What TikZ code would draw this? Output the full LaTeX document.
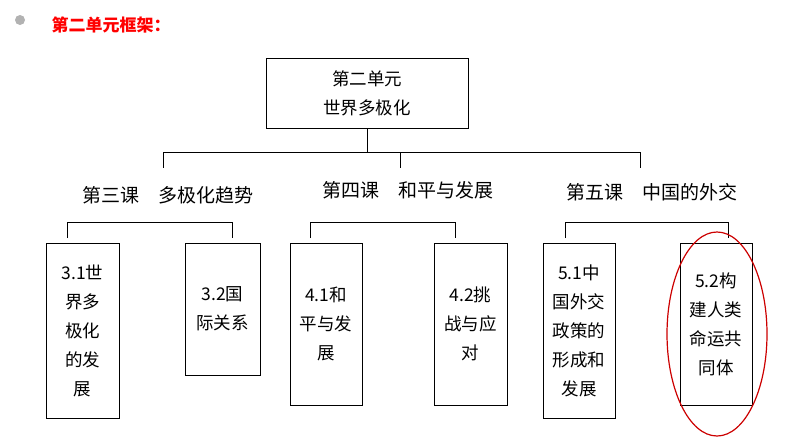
\documentclass[tikz,border=0pt]{standalone}
\usepackage{fontspec}
\newfontfamily\cjk{Noto Sans CJK SC}
\tikzset{
 bx/.style={draw,thick,align=center,inner sep=0pt,font=\cjk\fontsize{17.5}{29}\selectfont},
 lbl/.style={font=\cjk\fontsize{19}{22}\selectfont},
 ln/.style={line width=0.9pt}
}
\begin{document}
\begin{tikzpicture}[x=1pt,y=-1pt]
\useasboundingbox (0,0) rectangle (794,447);
\fill[gray!60] (20,20) circle (5);
\node[anchor=west,text=red,font=\cjk\bfseries\fontsize{17}{20}\selectfont] (t) at (48,25) {第二单元框架：};
\node[bx,minimum width=202,minimum height=70] (top) at (367,93) {第二单元\\世界多极化};
\coordinate (j) at (367,152);
\draw[ln] (top.south) -- (j);
\coordinate (a) at (163,152); \coordinate (b) at (400,152); \coordinate (c) at (640,152);
\draw[ln] (a) -- (c);
\draw[ln] (a) -- ++(0,16); \draw[ln] (b) -- ++(0,16); \draw[ln] (c) -- ++(0,16);
\node[lbl] (l3) at (168,195) {第三课\quad 多极化趋势};
\node[lbl] (l4) at (408,190) {第四课\quad 和平与发展};
\node[lbl] (l5) at (652,192) {第五课\quad 中国的外交};
\foreach \xa/\xb in {67/232,310/455,565/728}{
 \draw[ln] (\xa,238) -- (\xa,222) -- (\xb,222) -- (\xb,238);
}
\node[bx,minimum width=73,minimum height=175] (n1) at (82.5,330.5) {3.1世\\界多\\极化\\的发\\展};
\node[bx,minimum width=75,minimum height=132] (n2) at (222.5,309) {3.2国\\际关系};
\node[bx,minimum width=72,minimum height=162] (n3) at (326,324) {4.1和\\平与发\\展};
\node[bx,minimum width=73,minimum height=162] (n4) at (470.5,324) {4.2挑\\战与应\\对};
\node[bx,minimum width=72,minimum height=175] (n5) at (579,330.5) {5.1中\\国外交\\政策的\\形成和\\发展};
\node[bx,minimum width=72,minimum height=162] (n6) at (716,324) {5.2构\\建人类\\命运共\\同体};
\draw[red!80!black,line width=1.2pt] (717,334) ellipse (50 and 102);
\end{tikzpicture}
\end{document}
